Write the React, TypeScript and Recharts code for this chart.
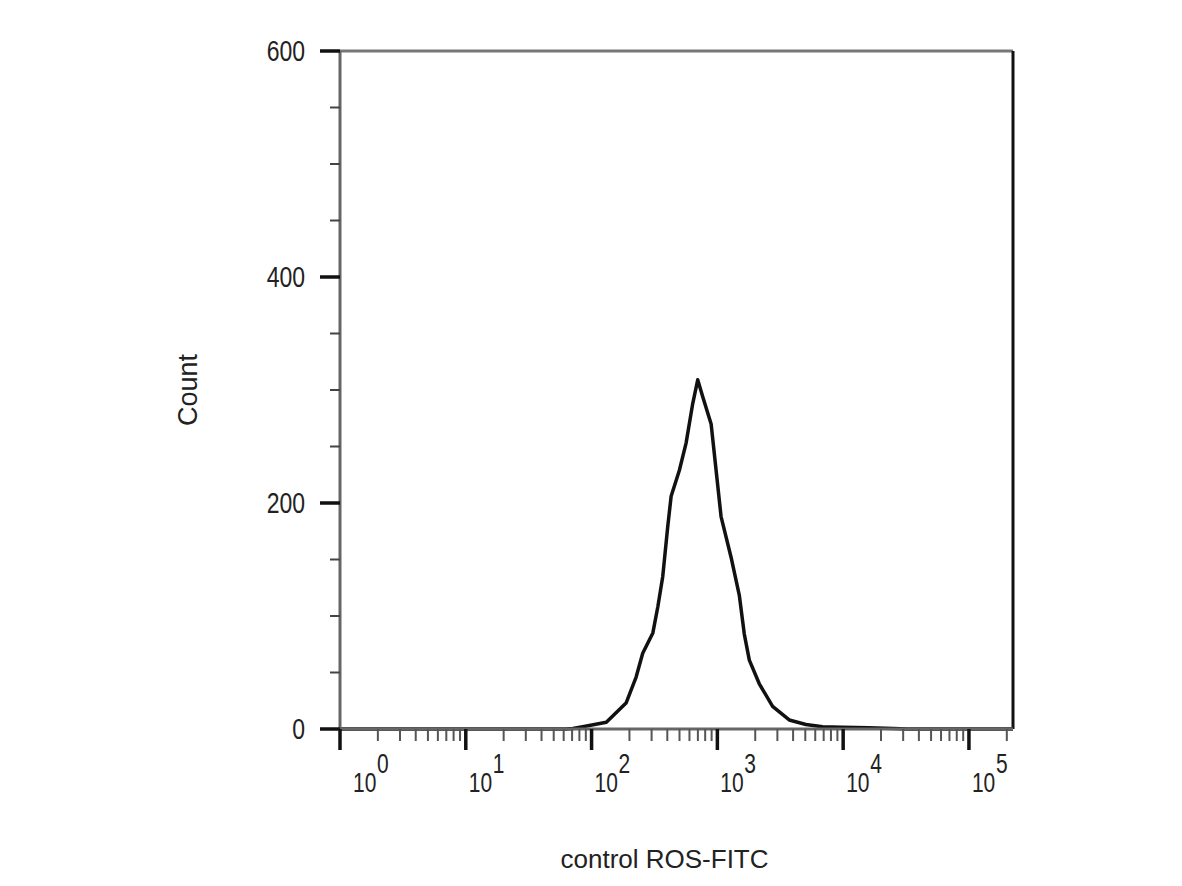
import { LineChart, Line, XAxis, YAxis, ReferenceLine, Label } from 'recharts'

// flow histogram, FITC channel on a log axis
const INTENSITY = [1, 63, 71, 85, 131, 188, 226, 255, 307, 336, 368, 403, 429, 499, 564, 637, 698, 765, 892, 977, 1070, 1285, 1496, 1637, 1795, 2154, 2748, 3727, 5055, 6855, 9800, 16000, 25000, 32000, 224000]
const COUNT = [0, 0, 0.5, 2, 6, 23, 46, 67, 85, 108, 135, 179, 206, 229, 253, 288, 309, 294, 270, 229, 188, 152, 118, 84, 61, 40, 20, 8, 4, 2, 1.5, 1, 0.5, 0, 0]

const X_DECADES = [1, 10, 100, 1000, 10000, 100000]
const X_EXPONENTS = ['0', '1', '2', '3', '4', '5']
const Y_MAJOR = [0, 200, 400, 600]
const Y_TICKS = [0, 50, 100, 150, 200, 250, 300, 350, 400, 450, 500, 550, 600]

const X_TICKS = X_DECADES.flatMap(d => [1, 2, 3, 4, 5, 6, 7, 8, 9].map(m => m * d)).filter(v => v <= 224000)

const FONT = 'Liberation Sans, Arial, sans-serif'

const chartData = INTENSITY.map((intensity, i) => ({ intensity, count: COUNT[i] }))

function XTick({ x, y, payload }: any) {
  const v = payload.value
  const idx = X_DECADES.indexOf(v)
  if (idx === -1) {
    return <line x1={x} x2={x} y1={y} y2={y + 12} stroke="#555" strokeWidth={2} />
  }
  const off = idx === 0 ? 13 : 3
  return (
    <g>
      <line x1={x} x2={x} y1={y} y2={y + 21} stroke="#111" strokeWidth={3.5} />
      <g transform={`translate(${x + off}, 792) scale(1, 1.3)`} fill="#222" fontFamily={FONT} fontSize={21}>
        <text x={0} y={0}>10</text>
        <text x={24} y={-14.5}>{X_EXPONENTS[idx]}</text>
      </g>
    </g>
  )
}

function YTick({ x, y, payload }: any) {
  const v = payload.value
  if (!Y_MAJOR.includes(v)) {
    return <line x1={x - 10} x2={x} y1={y} y2={y} stroke="#444" strokeWidth={2} />
  }
  return (
    <g>
      <line x1={x - 20} x2={x} y1={y} y2={y} stroke="#111" strokeWidth={3.5} />
      <g transform={`translate(305, ${y + 10}) scale(1, 1.3)`} fill="#222" fontFamily={FONT} fontSize={23}>
        <text x={0} y={0} textAnchor="end">{v}</text>
      </g>
    </g>
  )
}

export default function App() {
  return (
    <div style={{ position: 'absolute', left: 0, top: 0, background: '#fff' }}>
      <LineChart width={1182} height={886} data={chartData} margin={{ top: 51, right: 169, left: 0, bottom: 0 }}>
        <XAxis
          dataKey="intensity"
          type="number"
          scale="log"
          domain={[1, 224000]}
          allowDataOverflow
          ticks={X_TICKS}
          interval={0}
          height={157}
          tickSize={0}
          tickMargin={0}
          tickLine={false}
          axisLine={{ stroke: '#666', strokeWidth: 3 }}
          tick={<XTick />}
        >
          <Label
            content={({ viewBox }: any) => (
              <text x={viewBox.x + viewBox.width / 2 - 12} y={viewBox.y + 139} textAnchor="middle" fill="#222" fontFamily={FONT} fontSize={26}>
                control ROS-FITC
              </text>
            )}
          />
        </XAxis>
        <YAxis
          type="number"
          domain={[0, 600]}
          ticks={Y_TICKS}
          interval={0}
          width={340}
          tickSize={0}
          tickMargin={0}
          tickLine={false}
          axisLine={{ stroke: '#666', strokeWidth: 3 }}
          tick={<YTick />}
        >
          <Label
            content={({ viewBox }: any) => {
              const cy = viewBox.y + viewBox.height / 2
              return (
                <text x={188} y={cy} transform={`rotate(-90, 188, ${cy})`} textAnchor="middle" dominantBaseline="central" fill="#222" fontFamily={FONT} fontSize={27}>
                  Count
                </text>
              )
            }}
          />
        </YAxis>
        <ReferenceLine y={600} stroke="#777" strokeWidth={3} ifOverflow="visible" />
        <ReferenceLine x={224000} stroke="#111" strokeWidth={3} ifOverflow="visible" />
        <Line type="linear" dataKey="count" stroke="#111" strokeWidth={3.5} strokeLinejoin="round" dot={false} isAnimationActive={false} />
      </LineChart>
    </div>
  )
}
